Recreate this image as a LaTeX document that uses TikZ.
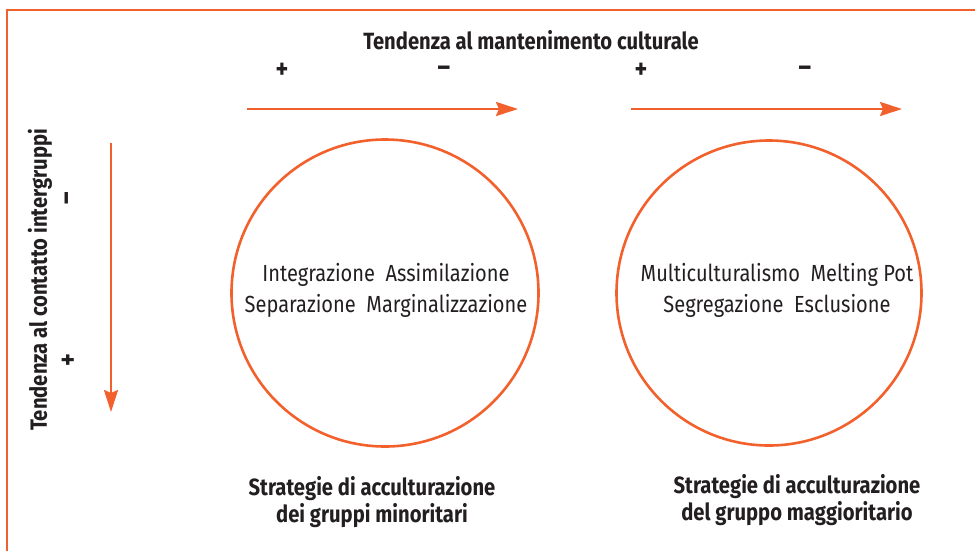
\documentclass[tikz,border=0pt]{standalone}
\usepackage{fontspec}
\setmainfont{Fira Sans}[FakeStretch=0.86]
\usetikzlibrary{arrows.meta}
\definecolor{org}{RGB}{242,96,44}
\definecolor{txt}{RGB}{35,31,32}
\begin{document}
\begin{tikzpicture}[x=1pt,y=-1pt,
  frame/.style={draw=org,line width=2.6pt},
  axis/.style={draw=org,line width=2.6pt,-{Stealth[length=22pt,width=14pt,inset=3pt]}},
  ring/.style={draw=org,line width=2.6pt,circle},
  bold/.style={font=\fontsize{23.5}{27}\selectfont\bfseries,text=txt,align=center},
  body/.style={font=\fontsize{23.3}{31}\selectfont,text=txt,align=center},
  sign/.style={font=\fontsize{28}{30}\selectfont\bfseries,text=txt}]
\useasboundingbox (0,0) rectangle (975,550);
\draw[frame] (7,551) -- (7,10) -- (976,10);
\node[bold] (title) at (531,40) {Tendenza al mantenimento culturale};
\node[sign] (p1) at (282,71) {+};
\node[sign] (m1) at (444,71) {–};
\node[sign] (p2) at (641,71) {+};
\node[sign] (m2) at (805,71) {–};
\coordinate (a1s) at (247,109); \coordinate (a1e) at (518,109);
\coordinate (a2s) at (631,109); \coordinate (a2e) at (902,109);
\draw[axis] (a1s) -- (a1e);
\draw[axis] (a2s) -- (a2e);
\coordinate (vs) at (111,143); \coordinate (ve) at (111,412);
\draw[axis] (vs) -- (ve);
\node[bold,rotate=90] (vtitle) at (40,280) {Tendenza al contatto intergruppi};
\node[sign,rotate=90] (vm) at (70,198) {–};
\node[sign,rotate=90] (vp) at (70,360) {+};
\node[ring,minimum size=307pt,inner sep=0pt] (c1) at (385,293) {};
\node[ring,minimum size=305pt,inner sep=0pt] (c2) at (769,293) {};
\node[body] (t1) at (386,290) {Integrazione\ \ Assimilazione\\Separazione\ \ Marginalizzazione};
\node[body] (t2) at (777,290) {Multiculturalismo\ \ Melting Pot\\Segregazione\ \ Esclusione};
\node[bold] (b1) at (372,502) {Strategie di acculturazione\\dei gruppi minoritari};
\node[bold] (b2) at (797,500) {Strategie di acculturazione\\del gruppo maggioritario};
\end{tikzpicture}
\end{document}
